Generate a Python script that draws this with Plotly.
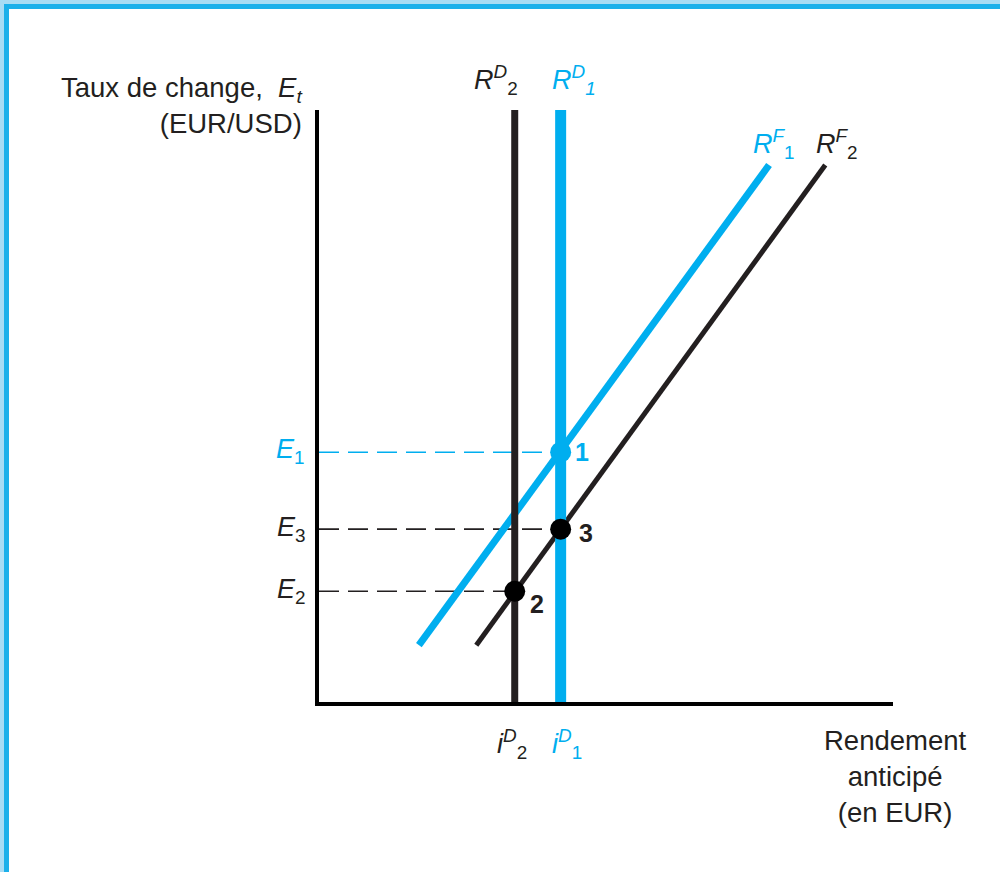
import plotly.graph_objects as go

# ---------------- data (abstract units, axes 0..10) ----------------
rd_names = ["RD2", "RD1"]
rd_x = [3.41, 4.21]            # vertical domestic-return lines
rd_y = [0.0, 10.0]

rf1_x = [1.74, 7.84]
rf1_y = [0.96, 9.07]
rf2_x = [2.74, 8.82]
rf2_y = [0.96, 9.07]

eq_names = ["1", "3", "2"]
eq_x = [4.21, 4.21, 3.41]
eq_y = [4.22, 2.92, 1.87]

BLUE = "#00aeef"
BLACK = "#231f20"
FONT = "Liberation Sans, Arial, Helvetica, sans-serif"

W, H = 1000, 872
L, R, T, B = 319, 107, 110, 170
PW, PH = W - L - R, H - T - B


def paper_x(xp):
    return (xp - L) / PW


def paper_y(yp):
    return (H - B - yp) / PH


fig = go.Figure()

# dashed guide lines
dash_cols = [BLUE, BLACK, BLACK]
for i in range(3):
    fig.add_trace(go.Scatter(x=[0, eq_x[i]], y=[eq_y[i], eq_y[i]], mode="lines",
                             line=dict(color=dash_cols[i], width=1.6, dash="20px,9px"),
                             hoverinfo="skip", showlegend=False))

# foreign-return lines
fig.add_trace(go.Scatter(x=rf1_x, y=rf1_y, mode="lines",
                         line=dict(color=BLUE, width=7), showlegend=False, hoverinfo="skip"))
fig.add_trace(go.Scatter(x=rf2_x, y=rf2_y, mode="lines",
                         line=dict(color=BLACK, width=5), showlegend=False, hoverinfo="skip"))

# domestic-return vertical lines
fig.add_trace(go.Scatter(x=[rd_x[1], rd_x[1]], y=rd_y, mode="lines",
                         line=dict(color=BLUE, width=11), showlegend=False, hoverinfo="skip"))
fig.add_trace(go.Scatter(x=[rd_x[0], rd_x[0]], y=rd_y, mode="lines",
                         line=dict(color=BLACK, width=7), showlegend=False, hoverinfo="skip"))

# equilibrium points
fig.add_trace(go.Scatter(x=eq_x, y=eq_y, mode="markers",
                         marker=dict(size=21, color=[BLUE, "black", "black"], line=dict(width=0)),
                         showlegend=False, hoverinfo="skip"))

ann = []


def add(text, xp, yp, color=BLACK, size=27, xanchor="center", align="center"):
    ann.append(dict(text=text, x=paper_x(xp), y=paper_y(yp), xref="paper", yref="paper",
                    showarrow=False, xanchor=xanchor, yanchor="middle", align=align,
                    font=dict(family=FONT, size=size, color=color)))


add("<i>R</i><sup><i>D</i></sup><sub>2</sub>", 496, 80)
add("<i>R</i><sup><i>D</i></sup><sub><i>1</i></sub>", 574, 80, BLUE)
add("<i>R</i><sup><i>F</i></sup><sub>1</sub>", 774, 144, BLUE)
add("<i>R</i><sup><i>F</i></sup><sub>2</sub>", 837, 144)

add("<i>E</i><sub>1</sub>", 290, 451, BLUE)
add("<i>E</i><sub>3</sub>", 291, 529)
add("<i>E</i><sub>2</sub>", 291, 591)

add("<b>1</b>", 582, 452, BLUE, size=25)
add("<b>3</b>", 586, 533, size=25)
add("<b>2</b>", 537, 604, size=25)

add("<i>i</i><sup><i>D</i></sup><sub>2</sub>", 512, 744)
add("<i>i</i><sup><i>D</i></sup><sub>1</sub>", 567, 744, BLUE)

add("Rendement<br>anticipé<br>(en EUR)", 895, 776, size=27.5)
add("Taux de change,  <i>E</i><sub><i>t</i></sub><br>(EUR/USD)", 305, 106,
    xanchor="right", align="right", size=27.5)

# frame (left and top blue borders)
shapes = [
    dict(type="rect", xref="paper", yref="paper", x0=paper_x(0), x1=paper_x(4),
         y0=paper_y(H), y1=paper_y(0), fillcolor="#a8dcf4", line=dict(width=0), layer="below"),
    dict(type="rect", xref="paper", yref="paper", x0=paper_x(0), x1=paper_x(W),
         y0=paper_y(4), y1=paper_y(0), fillcolor="#a8dcf4", line=dict(width=0), layer="below"),
    dict(type="rect", xref="paper", yref="paper", x0=paper_x(4), x1=paper_x(9),
         y0=paper_y(H), y1=paper_y(4), fillcolor="#1cb0ea", line=dict(width=0), layer="below"),
    dict(type="rect", xref="paper", yref="paper", x0=paper_x(4), x1=paper_x(W),
         y0=paper_y(9), y1=paper_y(4), fillcolor="#1cb0ea", line=dict(width=0), layer="below"),
]

axis_common = dict(range=[0, 10], showline=True, linecolor="black", linewidth=4,
                   showgrid=False, zeroline=False, showticklabels=False, ticks="",
                   fixedrange=True)

fig.update_layout(
    width=W, height=H,
    margin=dict(l=L, r=R, t=T, b=B),
    paper_bgcolor="white", plot_bgcolor="white",
    xaxis=axis_common, yaxis=axis_common,
    annotations=ann, shapes=shapes,
    showlegend=False,
)

fig.write_html("out.html", config={"displayModeBar": False},
               post_script="document.body.style.margin='0';document.body.style.overflow='hidden';")
